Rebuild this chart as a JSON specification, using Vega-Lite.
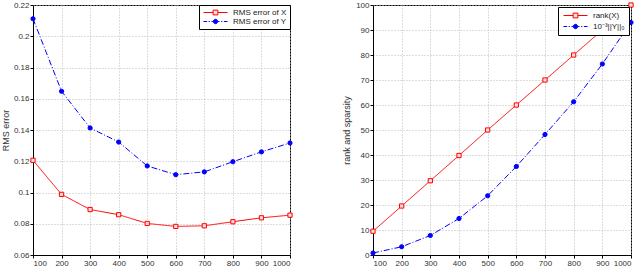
{
  "$schema": "https://vega.github.io/schema/vega-lite/v6.json",
  "padding": {"left": 0, "top": 0, "right": 0, "bottom": 0},
  "background": "white",
  "config": {
    "font": "Liberation Sans",
    "view": {"stroke": "black", "strokeWidth": 1},
    "concat": {"spacing": 47},
    "axis": {
      "labelFont": "Liberation Sans", "labelFontSize": 8, "labelColor": "#333",
      "titleFont": "Liberation Sans", "titleFontSize": 9, "titleFontWeight": "normal", "titleColor": "#333",
      "domainColor": "black", "tickColor": "black", "tickSize": 3, "tickOffset": 0,
      "grid": true, "gridColor": "#bbb", "gridDash": [1, 2], "gridWidth": 1,
      "labelPadding": 1
    },
    "legend": {
      "labelFont": "Liberation Sans", "labelFontSize": 8, "labelColor": "#222",
      "strokeColor": "black", "fillColor": "white", "padding": 3, "rowPadding": 0,
      "symbolSize": 64, "symbolStrokeWidth": 1, "symbolOffset": 9, "labelOffset": 13
    }
  },
  "hconcat": [
    {
      "width": 257, "height": 250,
      "data": {"values": [
        {"n": 100, "s": "RMS error of X", "v": 0.1206}, {"n": 200, "s": "RMS error of X", "v": 0.0988},
        {"n": 300, "s": "RMS error of X", "v": 0.0891}, {"n": 400, "s": "RMS error of X", "v": 0.0858},
        {"n": 500, "s": "RMS error of X", "v": 0.0802}, {"n": 600, "s": "RMS error of X", "v": 0.0783},
        {"n": 700, "s": "RMS error of X", "v": 0.0787}, {"n": 800, "s": "RMS error of X", "v": 0.0813},
        {"n": 900, "s": "RMS error of X", "v": 0.0838}, {"n": 1000, "s": "RMS error of X", "v": 0.0855},
        {"n": 100, "s": "RMS error of Y", "v": 0.2112}, {"n": 200, "s": "RMS error of Y", "v": 0.1648},
        {"n": 300, "s": "RMS error of Y", "v": 0.1413}, {"n": 400, "s": "RMS error of Y", "v": 0.1323},
        {"n": 500, "s": "RMS error of Y", "v": 0.117}, {"n": 600, "s": "RMS error of Y", "v": 0.1114},
        {"n": 700, "s": "RMS error of Y", "v": 0.1132}, {"n": 800, "s": "RMS error of Y", "v": 0.1197},
        {"n": 900, "s": "RMS error of Y", "v": 0.126}, {"n": 1000, "s": "RMS error of Y", "v": 0.1317}
      ]},
      "encoding": {
        "x": {"field": "n", "type": "quantitative", "title": "n",
              "scale": {"domain": [100, 1000], "nice": false},
              "axis": {"values": [100,200,300,400,500,600,700,800,900,1000], "format": "d", "titlePadding": 2}},
        "y": {"field": "v", "type": "quantitative", "title": "RMS error",
              "scale": {"domain": [0.06, 0.22], "nice": false, "zero": false},
              "axis": {"values": [0.06,0.08,0.1,0.12,0.14,0.16,0.18,0.2,0.22], "format": "~g", "titlePadding": 3}}
      },
      "layer": [
        {
          "mark": {"type": "line", "strokeWidth": 1},
          "encoding": {
            "color": {"field": "s", "type": "nominal", "scale": {"domain": ["RMS error of X", "RMS error of Y"], "range": ["#ff0000", "#0000ff"]}, "legend": null},
            "strokeDash": {"field": "s", "type": "nominal", "scale": {"domain": ["RMS error of X", "RMS error of Y"], "range": [[1, 0], [6, 2, 1, 2]]}, "legend": null}
          }
        },
        {
          "mark": {"type": "point", "strokeWidth": 1, "opacity": 1},
          "encoding": {
            "color": {"field": "s", "type": "nominal", "scale": {"domain": ["RMS error of X", "RMS error of Y"], "range": ["#ff0000", "#0000ff"]}, "legend": null},
            "shape": {"field": "s", "type": "nominal", "scale": {"domain": ["RMS error of X", "RMS error of Y"], "range": ["square", "circle"]}, "legend": null},
            "fill": {"field": "s", "type": "nominal", "scale": {"domain": ["RMS error of X", "RMS error of Y"], "range": ["#ffdddd", "#0000ff"]}, "legend": null},
            "size": {"value": 18}
          }
        },
        {
          "transform": [{"filter": "false"}],
          "mark": {"type": "point", "filled": false, "strokeWidth": 1, "opacity": 1},
          "encoding": {
            "shape": {"field": "s", "type": "nominal", "title": null,
              "scale": {"domain": ["RMS error of X", "RMS error of Y"], "range": ["M-3,0H-0.6M0.6,0H3M-0.6,-0.6H0.6V0.6H-0.6Z", "M-3,0H-2.1M-1.7,0H-1.4M-1,0H-0.6M0.6,0H1M1.4,0H1.7M2.1,0H3M0.55,0A0.55,0.55 0 1,1 -0.55,0A0.55,0.55 0 1,1 0.55,0Z"]},
              "legend": {"orient": "top-right", "offset": 0}},
            "color": {"field": "s", "type": "nominal", "title": null,
              "scale": {"domain": ["RMS error of X", "RMS error of Y"], "range": ["#ff0000", "#0000ff"]},
              "legend": {"orient": "top-right", "offset": 0}},
            "fill": {"field": "s", "type": "nominal", "title": null,
              "scale": {"domain": ["RMS error of X", "RMS error of Y"], "range": ["#ffdddd", "#0000ff"]},
              "legend": {"orient": "top-right", "offset": 0}}
          }
        }
      ],
      "resolve": {"scale": {"shape": "independent", "fill": "independent", "color": "independent"}}
    },
    {
      "width": 258, "height": 250,
      "data": {"values": [
        {"n": 100, "s": "rank(X)", "v": 9.5}, {"n": 200, "s": "rank(X)", "v": 19.6},
        {"n": 300, "s": "rank(X)", "v": 29.7}, {"n": 400, "s": "rank(X)", "v": 39.8},
        {"n": 500, "s": "rank(X)", "v": 50}, {"n": 600, "s": "rank(X)", "v": 60},
        {"n": 700, "s": "rank(X)", "v": 70}, {"n": 800, "s": "rank(X)", "v": 80},
        {"n": 900, "s": "rank(X)", "v": 90}, {"n": 1000, "s": "rank(X)", "v": 100},
        {"n": 100, "s": "10⁻³||Y||₀", "v": 0.8}, {"n": 200, "s": "10⁻³||Y||₀", "v": 3.3},
        {"n": 300, "s": "10⁻³||Y||₀", "v": 7.8}, {"n": 400, "s": "10⁻³||Y||₀", "v": 14.6},
        {"n": 500, "s": "10⁻³||Y||₀", "v": 23.7}, {"n": 600, "s": "10⁻³||Y||₀", "v": 35.4},
        {"n": 700, "s": "10⁻³||Y||₀", "v": 48.2}, {"n": 800, "s": "10⁻³||Y||₀", "v": 61.3},
        {"n": 900, "s": "10⁻³||Y||₀", "v": 76.4}, {"n": 1000, "s": "10⁻³||Y||₀", "v": 93.0}
      ]},
      "encoding": {
        "x": {"field": "n", "type": "quantitative", "title": "n",
              "scale": {"domain": [100, 1000], "nice": false},
              "axis": {"values": [100,200,300,400,500,600,700,800,900,1000], "format": "d", "titlePadding": 2}},
        "y": {"field": "v", "type": "quantitative", "title": "rank and sparsity",
              "scale": {"domain": [0, 100], "nice": false},
              "axis": {"values": [0,10,20,30,40,50,60,70,80,90,100], "titlePadding": 4}}
      },
      "layer": [
        {
          "mark": {"type": "line", "strokeWidth": 1},
          "encoding": {
            "color": {"field": "s", "type": "nominal", "scale": {"domain": ["rank(X)", "10⁻³||Y||₀"], "range": ["#ff0000", "#0000ff"]}, "legend": null},
            "strokeDash": {"field": "s", "type": "nominal", "scale": {"domain": ["rank(X)", "10⁻³||Y||₀"], "range": [[1, 0], [6, 2, 1, 2]]}, "legend": null}
          }
        },
        {
          "mark": {"type": "point", "strokeWidth": 1, "opacity": 1},
          "encoding": {
            "color": {"field": "s", "type": "nominal", "scale": {"domain": ["rank(X)", "10⁻³||Y||₀"], "range": ["#ff0000", "#0000ff"]}, "legend": null},
            "shape": {"field": "s", "type": "nominal", "scale": {"domain": ["rank(X)", "10⁻³||Y||₀"], "range": ["square", "circle"]}, "legend": null},
            "fill": {"field": "s", "type": "nominal", "scale": {"domain": ["rank(X)", "10⁻³||Y||₀"], "range": ["#ffdddd", "#0000ff"]}, "legend": null},
            "size": {"value": 18}
          }
        },
        {
          "transform": [{"filter": "false"}],
          "mark": {"type": "point", "filled": false, "strokeWidth": 1, "opacity": 1},
          "encoding": {
            "shape": {"field": "s", "type": "nominal", "title": null,
              "scale": {"domain": ["rank(X)", "10⁻³||Y||₀"], "range": ["M-3,0H-0.6M0.6,0H3M-0.6,-0.6H0.6V0.6H-0.6Z", "M-3,0H-2.1M-1.7,0H-1.4M-1,0H-0.6M0.6,0H1M1.4,0H1.7M2.1,0H3M0.55,0A0.55,0.55 0 1,1 -0.55,0A0.55,0.55 0 1,1 0.55,0Z"]},
              "legend": {"orient": "top-right", "offset": 2, "rowPadding": 2, "padding": 4}},
            "color": {"field": "s", "type": "nominal", "title": null,
              "scale": {"domain": ["rank(X)", "10⁻³||Y||₀"], "range": ["#ff0000", "#0000ff"]},
              "legend": {"orient": "top-right", "offset": 2, "rowPadding": 2, "padding": 4}},
            "fill": {"field": "s", "type": "nominal", "title": null,
              "scale": {"domain": ["rank(X)", "10⁻³||Y||₀"], "range": ["#ffdddd", "#0000ff"]},
              "legend": {"orient": "top-right", "offset": 2, "rowPadding": 2, "padding": 4}}
          }
        }
      ],
      "resolve": {"scale": {"shape": "independent", "fill": "independent", "color": "independent"}}
    }
  ]
}
